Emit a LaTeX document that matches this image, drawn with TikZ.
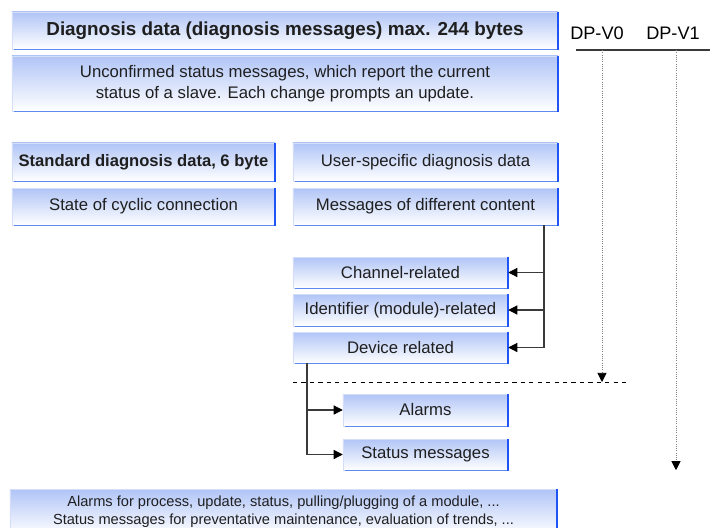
\documentclass[tikz,border=0pt]{standalone}
\usepackage{fontspec}
\setmainfont{Liberation Sans}
\usetikzlibrary{positioning}
\usetikzlibrary{arrows.meta}
\definecolor{paneltop}{HTML}{B0C4F6}
\definecolor{panelrim}{HTML}{D4DEF8}
\definecolor{edgeblue}{HTML}{1F55F5}
\definecolor{baseblue}{HTML}{5C8AF0}
\definecolor{linkgray}{HTML}{3A3A3A}
\tikzset{
    panel/.style = {rectangle, draw=panelrim, line width=0.3pt, top color=paneltop, bottom color=white,
        inner sep=0pt, align=center, text=black!88, font=\fontsize{11.9}{15}\selectfont,
        append after command={
            (\tikzlastnode.south west) edge[baseline] (\tikzlastnode.south east)
            (\tikzlastnode.south east) edge[sideline] (\tikzlastnode.north east)}},
    panelb/.style = {panel, font=\fontsize{11.8}{14}\selectfont\bfseries},
    baseline/.style = {draw=baseblue, line width=0.8pt, shorten <=1.5pt},
    sideline/.style = {draw=edgeblue, line width=1.5pt, shorten <=-0.5pt},
    link/.style = {-{Triangle[length=6.5pt,width=6.5pt,black]}, draw=linkgray, line width=0.8pt},
    trunk/.style = {draw=linkgray, line width=0.8pt},
    version/.style = {-{Triangle[length=6.5pt,width=6.5pt,black]}, gray, densely dotted, line width=0.6pt},
}
\begin{document}
\begin{tikzpicture}[x=0.025cm, y=-0.025cm,
    hdr/.style={font=\fontsize{12.9}{15}\selectfont, inner sep=0pt},
]
\clip (0,0) rectangle (710,527);

% upper panels
\node[panel, font=\fontsize{13.4}{15}\selectfont\bfseries, minimum width=13.65cm, minimum height=0.925cm] at (285,30.5) (title) {Diagnosis data (diagnosis messages) max. 244 bytes};
\node[panel, minimum width=13.65cm, minimum height=1.375cm] at (285,83.5) (intro) {Unconfirmed status messages, which report the current\\status of a slave. Each change prompts an update.};
\node[panelb, minimum width=6.575cm, minimum height=0.95cm] at (143.5,162) (stddata) {Standard diagnosis data, 6 byte};
\node[panel, minimum width=6.575cm, minimum height=0.925cm] at (143.5,206.5) (cyclic) {State of cyclic connection};
\node[panel, minimum width=6.625cm, minimum height=0.95cm] at (425.5,162) (userdata) {User-specific diagnosis data};
\node[panel, minimum width=6.625cm, minimum height=0.925cm] at (425.5,206.5) (content) {Messages of different content};
%
\node[panel, minimum width=5.375cm, minimum height=0.775cm] at (400.5,272.5) (channel) {Channel-related};
\node[panel, minimum width=5.375cm, minimum height=0.8cm] at (400.5,310) (ident) {Identifier (module)-related};
\node[panel, minimum width=5.375cm, minimum height=0.775cm] at (400.5,347.5) (device) {Device related};
\node[panel, minimum width=4.125cm, minimum height=0.8cm] at (425.5,410) (alarms) {Alarms};
\node[panel, minimum width=4.125cm, minimum height=0.775cm] at (425.5,454.5) (statusmsg) {Status messages};
\node[panel, font=\fontsize{10.4}{12.8}\selectfont, minimum width=13.675cm, minimum height=1.15cm] at (283.5,512) (examples) {Alarms for process, update, status, pulling/plugging of a module, ...\\Status messages for preventative maintenance, evaluation of trends, ...};

% version columns
\node[hdr] at (597,33) (dpvzero) {DP-V0};
\node[hdr] at (673,33) (dpvone) {DP-V1};
\coordinate (rulestart) at (576,50);
\coordinate (ruleend) at (712,50);
\coordinate (vzero) at (602,50);
\coordinate (vone) at (676,50);
\coordinate (cutleft) at (293,382);
\coordinate (cutright) at (627,382);
\draw[linkgray, line width=0.8pt] (rulestart) -- (ruleend);
\draw[dashed, black, line width=0.6pt] (cutleft) -- (cutright);
\draw[version] (vzero) -- (vzero |- cutleft);
\draw[version] (vone) -- (vone |- statusmsg.south);

% connectors
\coordinate (spine) at (544,0);
\coordinate (branch) at (307,0);
\draw[trunk] (content.south -| spine) -- (spine |- device);
\draw[link] (spine |- channel) -- (channel.east);
\draw[link] (spine |- ident) -- (ident.east);
\draw[link] (spine |- device) -- (device.east);
\draw[trunk] (device.south -| branch) -- (branch |- statusmsg);
\draw[link] (branch |- alarms) -- (alarms.west);
\draw[link] (branch |- statusmsg) -- (statusmsg.west);

\end{tikzpicture}
\end{document}
